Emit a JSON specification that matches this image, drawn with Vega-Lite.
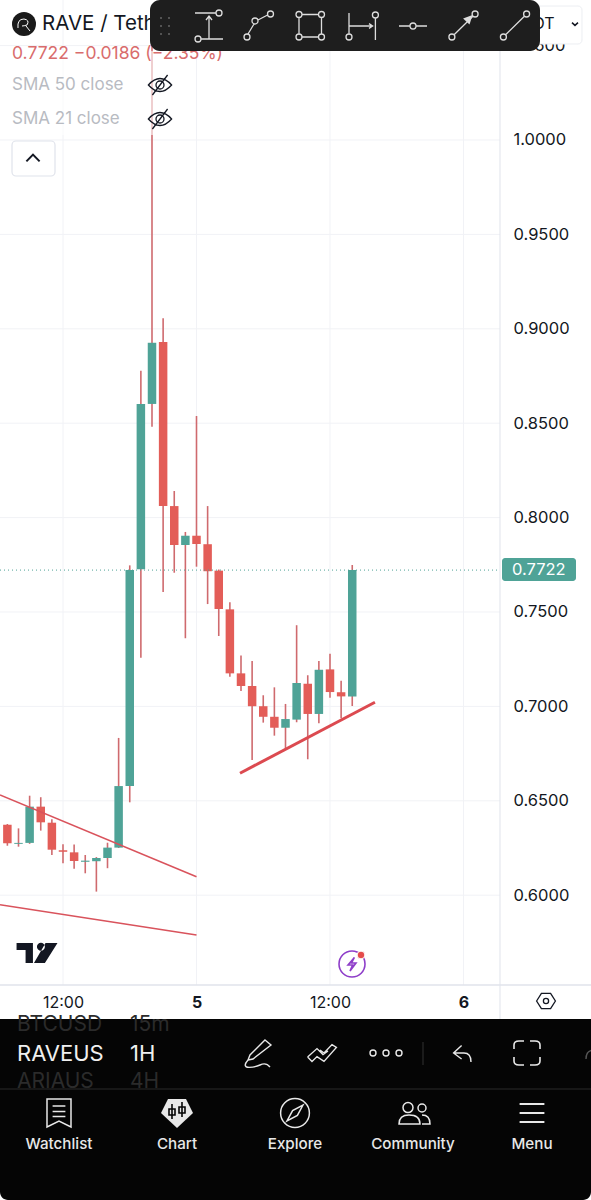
{"$schema":"https://vega.github.io/schema/vega-lite/v6.json","width":591,"height":1200,"padding":0,"autosize":{"type":"none","contains":"padding"},"background":"#ffffff","config":{"view":{"stroke":null},"font":"Inter","text":{"font":"Inter"}},
"datasets":{"candles":[
{"h":-17,"open":0.6373,"close":0.6275,"high":0.6377,"low":0.6262,"dir":"down"},
{"h":-16,"open":0.6272,"close":0.6277,"high":0.6354,"low":0.6257,"dir":"up"},
{"h":-15,"open":0.6277,"close":0.6469,"high":0.6527,"low":0.6272,"dir":"up"},
{"h":-14,"open":0.6469,"close":0.6386,"high":0.6519,"low":0.6342,"dir":"down"},
{"h":-13,"open":0.6384,"close":0.6241,"high":0.6402,"low":0.6213,"dir":"down"},
{"h":-12,"open":0.6238,"close":0.623,"high":0.627,"low":0.6169,"dir":"down"},
{"h":-11,"open":0.6227,"close":0.6181,"high":0.6268,"low":0.614,"dir":"down"},
{"h":-10,"open":0.6177,"close":0.6183,"high":0.6213,"low":0.6116,"dir":"up"},
{"h":-9,"open":0.618,"close":0.6197,"high":0.6202,"low":0.6019,"dir":"up"},
{"h":-8,"open":0.6197,"close":0.6252,"high":0.6278,"low":0.6143,"dir":"up"},
{"h":-7,"open":0.6252,"close":0.6578,"high":0.6833,"low":0.625,"dir":"up"},
{"h":-6,"open":0.6578,"close":0.7722,"high":0.7747,"low":0.6492,"dir":"up"},
{"h":-5,"open":0.7726,"close":0.8602,"high":0.8778,"low":0.7258,"dir":"up"},
{"h":-4,"open":0.8602,"close":0.8926,"high":1.05,"low":0.8481,"dir":"up"},
{"h":-3,"open":0.893,"close":0.8061,"high":0.9056,"low":0.7606,"dir":"down"},
{"h":-2,"open":0.8061,"close":0.7855,"high":0.8141,"low":0.7708,"dir":"down"},
{"h":-1,"open":0.7855,"close":0.7904,"high":0.7924,"low":0.7361,"dir":"up"},
{"h":0,"open":0.7904,"close":0.786,"high":0.8538,"low":0.774,"dir":"down"},
{"h":1,"open":0.7859,"close":0.7716,"high":0.8061,"low":0.7542,"dir":"down"},
{"h":2,"open":0.7719,"close":0.7516,"high":0.7725,"low":0.7373,"dir":"down"},
{"h":3,"open":0.7514,"close":0.7175,"high":0.7551,"low":0.7157,"dir":"down"},
{"h":4,"open":0.7175,"close":0.7108,"high":0.7269,"low":0.7082,"dir":"down"},
{"h":5,"open":0.7108,"close":0.7001,"high":0.724,"low":0.6716,"dir":"down"},
{"h":6,"open":0.7001,"close":0.6945,"high":0.7059,"low":0.6914,"dir":"down"},
{"h":7,"open":0.6945,"close":0.6887,"high":0.7101,"low":0.6845,"dir":"down"},
{"h":8,"open":0.6887,"close":0.6933,"high":0.7013,"low":0.6778,"dir":"up"},
{"h":9,"open":0.693,"close":0.7124,"high":0.743,"low":0.6916,"dir":"up"},
{"h":10,"open":0.712,"close":0.696,"high":0.7165,"low":0.672,"dir":"down"},
{"h":11,"open":0.696,"close":0.7194,"high":0.724,"low":0.6911,"dir":"up"},
{"h":12,"open":0.7196,"close":0.7076,"high":0.7279,"low":0.7046,"dir":"down"},
{"h":13,"open":0.7075,"close":0.7053,"high":0.7136,"low":0.6937,"dir":"down"},
{"h":14,"open":0.7053,"close":0.7722,"high":0.7749,"low":0.7002,"dir":"up"}
],
"thinLines":[
{"h":-17.663,"p":0.6531,"line":"upper"},{"h":0,"p":0.6098,"line":"upper"},
{"h":-17.663,"p":0.595,"line":"lower"},{"h":0,"p":0.5789,"line":"lower"}],
"thickLine":[{"h":3.91,"p":0.6646},{"h":16.04,"p":0.7022}]},
"encoding":{
"x":{"field":"h","type":"quantitative","scale":{"domain":[-17.663,35.461],"nice":false,"zero":false,"padding":0},"axis":{"title":null,"orient":"bottom","offset":-215,"values":[-12,0,12,24],"domain":false,"ticks":false,"grid":false,"labelExpr":"datum.value==0?'5':datum.value==24?'6':'12:00'","labelFont":"Inter","labelFontSize":16,"labelColor":"#131722","labelPadding":9,"labelFontWeight":{"condition":{"test":"datum.value==0||datum.value==24","value":"bold"},"value":"normal"},"zindex":1}},
"y":{"field":"p","type":"quantitative","scale":{"domain":[0.43856,1.07415],"nice":false,"zero":false},"axis":{"title":null,"orient":"right","offset":-91,"values":[0.6,0.65,0.7,0.75,0.8,0.85,0.9,0.95,1.0],"domain":false,"ticks":false,"grid":false,"format":".4f","labelFont":"Inter","labelFontSize":16.5,"labelColor":"#131722","labelPadding":13,"labelOverlap":false,"zindex":1}}},
"layer":[
{"data":{"values":[{"h":-12,"p":1.07415,"p2":0.55244},{"h":0,"p":1.07415,"p2":0.55244},{"h":12,"p":1.07415,"p2":0.55244},{"h":24,"p":1.07415,"p2":0.55244}]},"mark":{"type":"rule","stroke":"#f1f2f6","strokeWidth":1},"encoding":{"y2":{"field":"p2"}}},
{"data":{"values":[{"p":0.6,"h":-17.663,"h2":27.281},{"p":0.65,"h":-17.663,"h2":27.281},{"p":0.7,"h":-17.663,"h2":27.281},{"p":0.75,"h":-17.663,"h2":27.281},{"p":0.8,"h":-17.663,"h2":27.281},{"p":0.85,"h":-17.663,"h2":27.281},{"p":0.9,"h":-17.663,"h2":27.281},{"p":0.95,"h":-17.663,"h2":27.281},{"p":1.0,"h":-17.663,"h2":27.281},{"p":1.05,"h":-17.663,"h2":27.281}]},"mark":{"type":"rule","stroke":"#f1f2f6","strokeWidth":1},"encoding":{"x2":{"field":"h2"}}},
{"data":{"name":"candles"},"mark":{"type":"rule","stroke":"#cf6a6e","strokeWidth":1.6},"encoding":{"y":{"field":"low","type":"quantitative","title":null},"y2":{"field":"high"}}},
{"data":{"name":"candles"},"mark":{"type":"bar","size":8.5},"encoding":{"y":{"field":"open","type":"quantitative","title":null},"y2":{"field":"close"},"color":{"field":"dir","type":"nominal","scale":{"domain":["up","down"],"range":["#4fa397","#e35d58"]},"legend":null}}},
{"data":{"name":"thinLines"},"mark":{"type":"line","stroke":"#d9535c","strokeWidth":1.5},"encoding":{"detail":{"field":"line"}}},
{"data":{"name":"thickLine"},"mark":{"type":"line","stroke":"#dc4a50","strokeWidth":3}},
{"data":{"values":[{"h":-17.663,"h2":27.281,"p":0.7722}]},"mark":{"type":"rule","stroke":"#4fa397","strokeWidth":1,"strokeDash":[1,3]},"encoding":{"x2":{"field":"h2"}}},
{"data":{"values":[{"h":-17.663,"h2":-1.843,"p":1.04714,"p2":1.00265}]},"mark":{"type":"rect","fill":"#ffffff","opacity":0.6},"encoding":{"x2":{"field":"h2"},"y2":{"field":"p2"}}},
{"data":{"values":[{"h":27.281,"p":1.07415,"p2":0.53443}]},"mark":{"type":"rule","stroke":"#e0e3eb","strokeWidth":1},"encoding":{"y2":{"field":"p2"}}},
{"data":{"values":[{"h":-17.663,"h2":35.461,"p":0.55244}]},"mark":{"type":"rule","stroke":"#e0e3eb","strokeWidth":1.5},"encoding":{"x2":{"field":"h2"}}},
{"data":{"values":[{"h":27.461,"h2":34.112,"p":0.7786,"p2":0.76642}]},"mark":{"type":"rect","fill":"#4fa397","cornerRadius":3},"encoding":{"x2":{"field":"h2"},"y2":{"field":"p2"}}},
{"data":{"values":[{"h":28.36,"p":0.7722,"label":"0.7722"}]},"mark":{"type":"text","align":"left","baseline":"middle","font":"Inter","fontSize":16.5,"fill":"#ffffff"},"encoding":{"text":{"field":"label"}}},
{"data":{"values":[{"h":-16.584,"h2":-12.719,"p":0.99947,"p2":0.98093}]},"mark":{"type":"rect","fill":"#ffffff","stroke":"#e0e3eb","strokeWidth":1.2,"cornerRadius":4},"encoding":{"x2":{"field":"h2"},"y2":{"field":"p2"}}},
{"data":{"values":[{"h":28.449,"p":1.05,"label":"1.0500"}]},"mark":{"type":"text","align":"left","baseline":"middle","font":"Inter","fontSize":16.5,"fill":"#131722"},"encoding":{"text":{"field":"label"}}},
{"data":{"values":[{"h":30,"h2":34.652,"p":1.07097,"p2":1.05085}]},"mark":{"type":"rect","fill":"#ffffff","stroke":"#eceef2","strokeWidth":1,"cornerRadius":4},"encoding":{"x2":{"field":"h2"},"y2":{"field":"p2"}}},
{"data":{"values":[{"h":30.2,"p":1.06144,"label":"OT"}]},"mark":{"type":"text","align":"left","baseline":"middle","font":"Inter","fontSize":16,"fill":"#131722"},"encoding":{"text":{"field":"label"}}},
{"data":{"values":[{"h":34.022,"p":1.06144}]},"mark":{"type":"point","shape":"M -.15 -.07 L 0 .07 L .15 -.07","size":1600,"filled":false,"stroke":"#131722","strokeWidth":1.5,"opacity":1}},
{"data":{"values":[{"h":-13.888,"p":1.06144,"label":"RAVE / Tether"}]},"mark":{"type":"text","align":"left","baseline":"middle","font":"Inter","fontSize":20.5,"fill":"#131722"},"encoding":{"text":{"field":"label"}}},
{"data":{"values":[{"h":-15.506,"p":1.06144}]},"mark":{"type":"point","shape":"circle","size":576,"filled":true,"fill":"#1a1a1a","opacity":1}},
{"data":{"values":[{"h":-15.506,"p":1.06144}]},"mark":{"type":"point","shape":"M -.3 .2 Q -.35 -.25 0 -.25 Q .3 -.2 .15 .05 Q 0 .1 -.1 .1 M .1 .1 L .3 .35","size":1600,"filled":false,"stroke":"#ffffff","strokeWidth":1,"opacity":1}},
{"data":{"values":[{"h":-16.584,"p":1.04555,"label":"0.7722   −0.0186 (−2.35%)"}]},"mark":{"type":"text","align":"left","baseline":"middle","font":"Inter","fontSize":17.5,"fill":"#d96c6c"},"encoding":{"text":{"field":"label"}}},
{"data":{"values":[{"h":-16.584,"p":1.02913,"label":"SMA 50 close"},{"h":-16.584,"p":1.01112,"label":"SMA 21 close"}]},"mark":{"type":"text","align":"left","baseline":"middle","font":"Inter","fontSize":17,"fill":"#b8bbc2"},"encoding":{"text":{"field":"label"}}},
{"data":{"values":[{"h":-3.281,"p":1.02913},{"h":-3.281,"p":1.01112}]},"mark":{"type":"point","shape":"M -.58 0 Q 0 -.65 .58 0 Q 0 .65 -.58 0 Z M -.2 0 a .2 .2 0 1 0 .4 0 a .2 .2 0 1 0 -.4 0 M -.38 .5 L .38 -.5","size":1600,"filled":false,"stroke":"#131722","strokeWidth":1.3,"opacity":1}},
{"data":{"values":[{"h":-14.697,"p":0.99047}]},"mark":{"type":"point","shape":"M -.33 .17 L 0 -.17 L .33 .17","size":1600,"filled":false,"stroke":"#131722","strokeWidth":2,"opacity":1}},
{"data":{"values":[{"h":-14.382,"p":0.56939}]},"mark":{"type":"point","shape":"M -.95 -.48 L -.17 -.48 L -.17 .48 L -.52 .48 L -.52 -.14 L -.95 -.14 Z M .02 -.3 a .19 .19 0 1 0 .38 0 a .19 .19 0 1 0 -.38 0 M .43 -.48 L 1 -.48 L .4 .48 L -.12 .48 Z","size":1764,"filled":true,"fill":"#131722","stroke":null,"opacity":1}},
{"data":{"values":[{"h":13.978,"p":0.56356}]},"mark":{"type":"point","shape":"M -.65 0 a .65 .65 0 1 0 1.3 0 a .65 .65 0 1 0 -1.3 0 M .12 -.33 L -.2 .05 L .03 .05 L -.1 .35 L .2 -.05 L -.03 -.05 Z","size":1600,"filled":false,"stroke":"#8e3ec9","strokeWidth":1.6,"opacity":1}},
{"data":{"values":[{"h":14.787,"p":0.56833}]},"mark":{"type":"point","shape":"circle","size":60,"filled":true,"fill":"#e54b4b","stroke":"#ffffff","strokeWidth":1,"opacity":1}},
{"data":{"values":[{"h":31.416,"p":0.54396}]},"mark":{"type":"point","shape":"M -.47 0 L -.23 -.38 L .23 -.38 L .47 0 L .23 .38 L -.23 .38 Z M -.13 0 a .13 .13 0 1 0 .26 0 a .13 .13 0 1 0 -.26 0","size":1600,"filled":false,"stroke":"#131722","strokeWidth":1.3,"opacity":1}},
{"data":{"values":[{"h":-4.18,"h2":30.876,"p":1.07415,"p2":1.04714}]},"mark":{"type":"rect","fill":"#1e1e1e","cornerRadius":10},"encoding":{"x2":{"field":"h2"},"y2":{"field":"p2"}}},
{"data":{"values":[{"h":-2.831,"p":1.06038}]},"mark":{"type":"point","shape":"M -.25 -.4 a .05 .05 0 1 0 .1 0 a .05 .05 0 1 0 -.1 0 M .15 -.4 a .05 .05 0 1 0 .1 0 a .05 .05 0 1 0 -.1 0 M -.25 0 a .05 .05 0 1 0 .1 0 a .05 .05 0 1 0 -.1 0 M .15 0 a .05 .05 0 1 0 .1 0 a .05 .05 0 1 0 -.1 0 M -.25 .4 a .05 .05 0 1 0 .1 0 a .05 .05 0 1 0 -.1 0 M .15 .4 a .05 .05 0 1 0 .1 0 a .05 .05 0 1 0 -.1 0","size":1600,"filled":true,"fill":"#5e5e5e","stroke":null,"opacity":1}},
{"data":{"values":[{"h":1.124,"p":1.06038}]},"mark":{"type":"point","shape":"M -.7 -.65 L .33 -.65 M .35 -.65 a .15 .15 0 1 0 .3 0 a .15 .15 0 1 0 -.3 0 M -.7 .65 a .15 .15 0 1 0 .3 0 a .15 .15 0 1 0 -.3 0 M -.4 .65 L .7 .65 M 0 .65 L 0 -.45 M -.15 -.3 L 0 -.5 L .15 -.3","size":1600,"filled":false,"stroke":"#dddddd","strokeWidth":1.3,"opacity":1}},
{"data":{"values":[{"h":5.618,"p":1.06038}]},"mark":{"type":"point","shape":"M -.75 .55 a .15 .15 0 1 0 .3 0 a .15 .15 0 1 0 -.3 0 M -.35 -.25 a .15 .15 0 1 0 .3 0 a .15 .15 0 1 0 -.3 0 M .425 -.6 a .15 .15 0 1 0 .3 0 a .15 .15 0 1 0 -.3 0 M -.55 .4 L -.25 -.1 M -.05 -.3 L .43 -.55","size":1600,"filled":false,"stroke":"#dddddd","strokeWidth":1.3,"opacity":1}},
{"data":{"values":[{"h":10.202,"p":1.06038}]},"mark":{"type":"point","shape":"M -.7 -.575 a .15 .15 0 1 0 .3 0 a .15 .15 0 1 0 -.3 0 M .425 -.575 a .15 .15 0 1 0 .3 0 a .15 .15 0 1 0 -.3 0 M -.7 .55 a .15 .15 0 1 0 .3 0 a .15 .15 0 1 0 -.3 0 M .425 .55 a .15 .15 0 1 0 .3 0 a .15 .15 0 1 0 -.3 0 M -.4 -.575 L .425 -.575 M -.4 .55 L .425 .55 M -.55 -.425 L -.55 .4 M .575 -.425 L .575 .4","size":1600,"filled":false,"stroke":"#dddddd","strokeWidth":1.3,"opacity":1}},
{"data":{"values":[{"h":14.787,"p":1.06038}]},"mark":{"type":"point","shape":"M -.6 -.65 L -.6 .4 M -.75 .55 a .15 .15 0 1 0 .3 0 a .15 .15 0 1 0 -.3 0 M .72 -.4 L .72 .7 M .57 -.55 a .15 .15 0 1 0 .3 0 a .15 .15 0 1 0 -.3 0 M -.6 0 L .55 0 M .4 -.12 L .58 0 L .4 .12","size":1600,"filled":false,"stroke":"#dddddd","strokeWidth":1.3,"opacity":1}},
{"data":{"values":[{"h":19.461,"p":1.06038}]},"mark":{"type":"point","shape":"M -.7 0 L -.15 0 M -.15 0 a .15 .15 0 1 0 .3 0 a .15 .15 0 1 0 -.3 0 M .15 0 L .7 0","size":1600,"filled":false,"stroke":"#dddddd","strokeWidth":1.3,"opacity":1}},
{"data":{"values":[{"h":24,"p":1.06038}]},"mark":{"type":"point","shape":"M -.73 .55 a .15 .15 0 1 0 .3 0 a .15 .15 0 1 0 -.3 0 M .43 -.6 a .15 .15 0 1 0 .3 0 a .15 .15 0 1 0 -.3 0 M -.47 .44 L .47 -.49","size":1600,"filled":false,"stroke":"#dddddd","strokeWidth":1.3,"opacity":1}},
{"data":{"values":[{"h":24,"p":1.06038}]},"mark":{"type":"point","shape":"M .45 -.55 L -.02 -.38 L .3 -.08 Z","size":1600,"filled":true,"fill":"#dddddd","stroke":null,"opacity":1}},
{"data":{"values":[{"h":28.63,"p":1.06038}]},"mark":{"type":"point","shape":"M -.73 .55 a .15 .15 0 1 0 .3 0 a .15 .15 0 1 0 -.3 0 M .43 -.6 a .15 .15 0 1 0 .3 0 a .15 .15 0 1 0 -.3 0 M -.47 .44 L .47 -.49","size":1600,"filled":false,"stroke":"#dddddd","strokeWidth":1.3,"opacity":1}},
{"data":{"values":[{"h":-17.663,"h2":35.461,"p":0.53443,"p2":0.43856}]},"mark":{"type":"rect","fill":"#050505","cornerRadiusBottomLeft":8,"cornerRadiusBottomRight":8},"encoding":{"x2":{"field":"h2"},"y2":{"field":"p2"}}},
{"data":{"values":[{"h":-16.135,"p":0.53125,"label":"BTCUSD"},{"h":-5.978,"p":0.53125,"label":"15m"},{"h":-16.135,"p":0.50106,"label":"ARIAUS"},{"h":-5.978,"p":0.50106,"label":"4H"}]},"mark":{"type":"text","align":"left","baseline":"middle","font":"Inter","fontSize":21,"fill":"#2b2b2b"},"encoding":{"text":{"field":"label"}}},
{"data":{"values":[{"h":-16.135,"p":0.51589,"label":"RAVEUS"},{"h":-5.978,"p":0.51589,"label":"1H"}]},"mark":{"type":"text","align":"left","baseline":"middle","font":"Inter","fontSize":22,"fill":"#f0f0f0"},"encoding":{"text":{"field":"label"}}},
{"data":{"values":[{"h":-17.663,"h2":35.461,"p":0.49735}]},"mark":{"type":"rule","stroke":"#2a2a2a","strokeWidth":1},"encoding":{"x2":{"field":"h2"}}},
{"data":{"values":[{"h":20.36,"p":0.52225,"p2":0.51006}]},"mark":{"type":"rule","stroke":"#333333","strokeWidth":1},"encoding":{"y2":{"field":"p2"}}},
{"data":{"values":[{"h":5.528,"p":0.51642}]},"mark":{"type":"point","shape":"M .35 -.65 L .65 -.4 L -.25 .3 L -.5 .35 L -.4 .1 Z M -.5 .35 Q -.8 .7 -.45 .72 Q -.1 .7 .1 .6 Q .4 .45 .6 .7","size":1600,"filled":false,"stroke":"#e8e8e8","strokeWidth":1.4,"opacity":1}},
{"data":{"values":[{"h":11.281,"p":0.51642}]},"mark":{"type":"point","shape":"M -.72 .2 L -.25 -.22 L .05 .08 L .3 -.1 M -.72 .2 L -.5 .42 L -.25 .18 L .1 .42 L .72 -.28 L .5 -.42 L .1 0 L -.1 -.15","size":1600,"filled":false,"stroke":"#e8e8e8","strokeWidth":1.4,"opacity":1}},
{"data":{"values":[{"h":17.034,"p":0.51642}]},"mark":{"type":"point","shape":"M -.8 0 a .15 .15 0 1 0 .3 0 a .15 .15 0 1 0 -.3 0 M -.15 0 a .15 .15 0 1 0 .3 0 a .15 .15 0 1 0 -.3 0 M .5 0 a .15 .15 0 1 0 .3 0 a .15 .15 0 1 0 -.3 0","size":1600,"filled":false,"stroke":"#e8e8e8","strokeWidth":1.4,"opacity":1}},
{"data":{"values":[{"h":23.865,"p":0.51589}]},"mark":{"type":"point","shape":"M -.02 -.42 L -.42 -.05 L -.02 .25 M -.42 -.05 L .1 -.05 Q .45 -.05 .45 .4","size":1600,"filled":false,"stroke":"#e8e8e8","strokeWidth":1.4,"opacity":1}},
{"data":{"values":[{"h":29.708,"p":0.51642}]},"mark":{"type":"point","shape":"M -.65 -.2 L -.65 -.4 Q -.65 -.6 -.4 -.6 L -.15 -.6 M .15 -.6 L .4 -.6 Q .65 -.6 .65 -.4 L .65 -.2 M .65 .2 L .65 .4 Q .65 .6 .4 .6 L .15 .6 M -.15 .6 L -.4 .6 Q -.65 .6 -.65 .4 L -.65 .2","size":1600,"filled":false,"stroke":"#e8e8e8","strokeWidth":1.6,"opacity":1}},
{"data":{"values":[{"h":35.191,"p":0.51589}]},"mark":{"type":"point","shape":"M -.1 .25 Q -.1 -.2 .3 -.2","size":1600,"filled":false,"stroke":"#555555","strokeWidth":1.4,"opacity":1}},
{"data":{"values":[{"h":-12.36,"p":0.48464}]},"mark":{"type":"point","shape":"M -.6 -.7 L .6 -.7 L .6 .7 L 0 .4 L -.6 .7 Z M -.32 -.35 L .32 -.35 M -.32 -.08 L .32 -.08 M -.32 .18 L .32 .18","size":1600,"filled":false,"stroke":"#e8e8e8","strokeWidth":1.5,"opacity":1}},
{"data":{"values":[{"h":-1.753,"p":0.48464}]},"mark":{"type":"point","shape":"M -.45 -.7 L .45 -.7 L .8 0 L 0 .75 L -.8 0 Z","size":1600,"filled":true,"fill":"#e8e8e8","stroke":null,"opacity":1}},
{"data":{"values":[{"h":-1.753,"p":0.48464}]},"mark":{"type":"point","shape":"M -.25 -.45 L -.25 .3 M -.4 -.2 L -.1 -.2 L -.1 .1 L -.4 .1 Z M .25 -.55 L .25 .2 M .1 -.3 L .4 -.3 L .4 0 L .1 0 Z","size":1600,"filled":false,"stroke":"#050505","strokeWidth":1.6,"opacity":1}},
{"data":{"values":[{"h":8.854,"p":0.48464}]},"mark":{"type":"point","shape":"M -.72 0 a .72 .72 0 1 0 1.44 0 a .72 .72 0 1 0 -1.44 0 M .4 -.4 L .12 .12 L -.4 .4 L -.12 -.12 Z","size":1600,"filled":false,"stroke":"#e8e8e8","strokeWidth":1.5,"opacity":1}},
{"data":{"values":[{"h":19.461,"p":0.48464}]},"mark":{"type":"point","shape":"M -.5 -.27 a .25 .25 0 1 0 .5 0 a .25 .25 0 1 0 -.5 0 M .25 -.25 a .2 .2 0 1 0 .4 0 a .2 .2 0 1 0 -.4 0 M -.7 .55 Q -.7 .1 -.2 .1 Q .35 .1 .35 .55 Z M .45 .1 Q .85 .1 .85 .55 L .45 .55","size":1600,"filled":false,"stroke":"#e8e8e8","strokeWidth":1.5,"opacity":1}},
{"data":{"values":[{"h":30.157,"p":0.48464}]},"mark":{"type":"point","shape":"M -.62 -.45 L .62 -.45 M -.62 0 L .62 0 M -.62 .45 L .62 .45","size":1600,"filled":false,"stroke":"#e8e8e8","strokeWidth":1.8,"opacity":1}},
{"data":{"values":[{"h":-12.36,"p":0.46822,"label":"Watchlist"},{"h":-1.753,"p":0.46822,"label":"Chart"},{"h":8.854,"p":0.46822,"label":"Explore"},{"h":19.461,"p":0.46822,"label":"Community"},{"h":30.157,"p":0.46822,"label":"Menu"}]},"mark":{"type":"text","align":"center","baseline":"middle","font":"Inter","fontSize":15.2,"fontWeight":500,"fill":"#e8e8e8"},"encoding":{"text":{"field":"label"}}}
]}
